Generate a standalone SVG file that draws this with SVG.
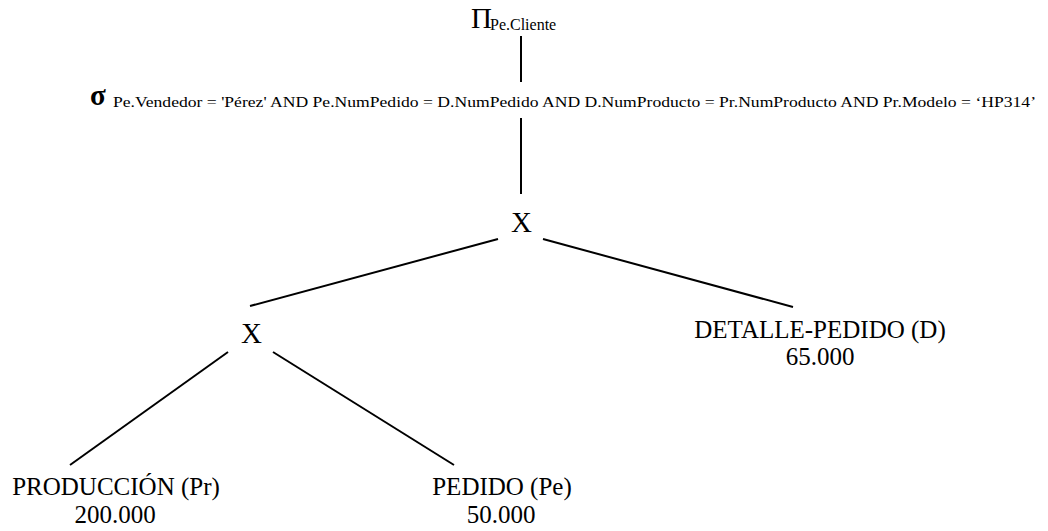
<svg xmlns="http://www.w3.org/2000/svg" width="1048" height="531" viewBox="0 0 1048 531">
  <style>
    text { fill: #000; font-family: "Liberation Serif", "Times New Roman", serif; }
    .op { font-size: 29px; text-anchor: middle; }
    .rel { font-size: 25px; text-anchor: middle; }
    .sub { font-size: 15px; }
    .edge { stroke: #000; stroke-width: 2; fill: none; }
  </style>
  <rect width="1048" height="531" fill="#fff"/>

  <!-- tree edges -->
  <g id="connectors">
    <line class="edge" x1="521" y1="36" x2="521" y2="82"/>
    <line class="edge" x1="521" y1="118" x2="521" y2="194"/>
    <line class="edge" x1="498" y1="239" x2="250" y2="306"/>
    <line class="edge" x1="543" y1="239" x2="793" y2="307"/>
    <line class="edge" x1="228" y1="352" x2="70" y2="465"/>
    <line class="edge" x1="273" y1="352" x2="454" y2="465"/>
  </g>

  <g id="projection">
    <text x="471" y="28" font-size="29">Π</text>
    <text x="490" y="30" font-size="16">Pe.Cliente</text>
  </g>

  <g id="selection">
    <text x="90" y="105" font-size="29" font-weight="bold">σ</text>
    <text class="sub" x="113" y="107" textLength="923" lengthAdjust="spacingAndGlyphs">Pe.Vendedor = 'Pérez' AND Pe.NumPedido = D.NumPedido AND D.NumProducto = Pr.NumProducto AND Pr.Modelo = ‘HP314’</text>
  </g>

  <g id="product-top">
    <text class="op" x="521.5" y="232">X</text>
  </g>

  <g id="product-bottom">
    <text class="op" x="251.5" y="343">X</text>
  </g>

  <g id="detalle-pedido">
    <text class="rel" x="820" y="338">DETALLE-PEDIDO (D)</text>
    <text class="rel" x="820" y="365">65.000</text>
  </g>

  <g id="produccion">
    <text class="rel" x="116" y="495">PRODUCCIÓN (Pr)</text>
    <text class="rel" x="115" y="523">200.000</text>
  </g>

  <g id="pedido">
    <text class="rel" x="502" y="495">PEDIDO (Pe)</text>
    <text class="rel" x="501" y="523">50.000</text>
  </g>
</svg>
